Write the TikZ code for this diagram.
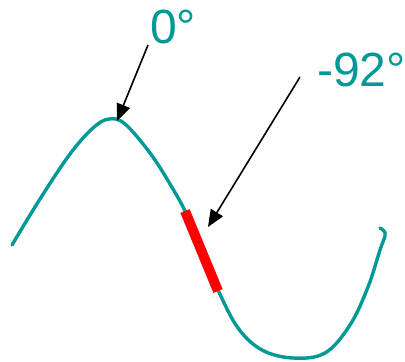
\documentclass[tikz,border=0pt]{standalone}
\usepackage{fontspec}
\setmainfont{Liberation Sans}
\usepackage{tikz}
\usetikzlibrary{arrows.meta,positioning}
\definecolor{wavecol}{RGB}{0,153,150}

\begin{document}
\begin{tikzpicture}[x=1pt,y=-1pt,>={Triangle[length=17pt,width=14pt]},
  every node/.style={font=\fontsize{48}{54}\selectfont,text=wavecol,inner sep=0pt},
  wave/.style={draw=wavecol,line width=3.4pt,line cap=round,line join=round},
  pointer/.style={->,draw=black,line width=1.6pt}]
\useasboundingbox (0,0) rectangle (405,362);
% sine curve
\draw[wave] plot[smooth,tension=0.6] coordinates {(12,245) (40,199) (70,154) (93,128) (109,119) (125,124) (150,153) (170,184) (186,213) (202,252) (218,290) (238,328) (262,350) (293,358) (325,353) (350,325) (368,287) (380,250) (385,236) (384,231) (380,228)};
% highlighted part
\draw[red,line width=10pt] (185,211) -- (218,291);
% labels
\node[anchor=base west] (zero) at (150,43) {0°};
\node[anchor=base west] (shift) at (317,86) {-92°};
\coordinate (zerofrom) at (148,45);
\coordinate (zeroto) at (117,121);
\coordinate (shiftfrom) at (300,77);
\coordinate (shiftto) at (208,227);
\draw[pointer] (zerofrom) -- (zeroto);
\draw[pointer] (shiftfrom) -- (shiftto);
\end{tikzpicture}
\end{document}
